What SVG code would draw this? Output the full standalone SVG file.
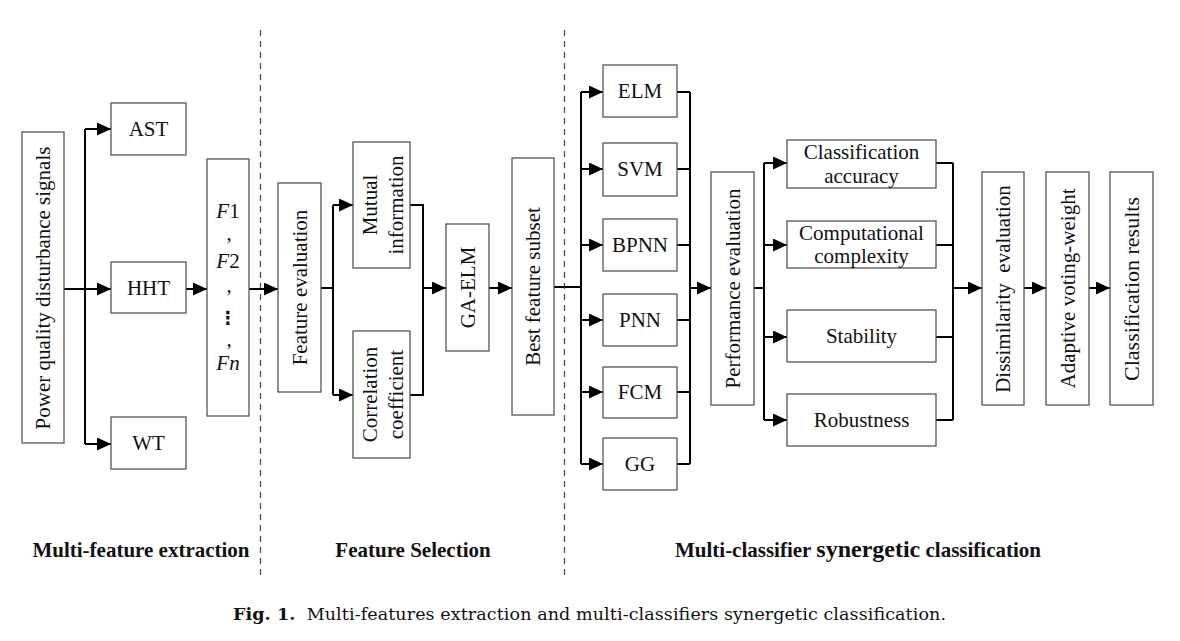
<svg xmlns="http://www.w3.org/2000/svg" width="1180" height="641" viewBox="0 0 1180 641">
<style>
.box{fill:#fff;stroke:#555;stroke-width:1.3}
.t{font-family:"Liberation Serif","Times New Roman",serif;font-size:21px;fill:#111;text-anchor:middle}
.c{fill:none;stroke:#000;stroke-width:2}
.a{fill:none;stroke:#000;stroke-width:2;marker-end:url(#ah)}
.d{fill:none;stroke:#444;stroke-width:1.2;stroke-dasharray:6 5}
.lbl{font-family:"Liberation Serif","Times New Roman",serif;font-weight:bold;font-size:21px;fill:#111;text-anchor:middle}
.cap{font-family:"DejaVu Serif","Liberation Serif",serif;font-size:17.5px;fill:#111}
</style>
<defs>
<marker id="ah" markerUnits="userSpaceOnUse" markerWidth="15" markerHeight="13" refX="14" refY="6.5" orient="auto">
<path d="M0,0 L14,6.5 L0,13 z" fill="#000"/>
</marker>
</defs>
<rect width="1180" height="641" fill="#fff"/>

<g id="dividers">
<line class="d" x1="260.5" y1="30" x2="260.5" y2="580"/>
<line class="d" x1="564.5" y1="30" x2="564.5" y2="580"/>
</g>

<g id="connectors">
<path class="c" d="M85,129 V444"/>
<path class="a" d="M64,289 H111"/>
<path class="a" d="M85,129 H111"/>
<path class="a" d="M85,444 H111"/>
<path class="a" d="M186,289 H207"/>
<path class="a" d="M249,289 H278"/>
<path class="c" d="M321,288 H333 M333,205 V395"/>
<path class="a" d="M333,205 H353"/>
<path class="a" d="M333,395 H353"/>
<path class="c" d="M410,205 H423 V395 H410"/>
<path class="a" d="M423,288 H446"/>
<path class="a" d="M489,288 H512"/>
<path class="c" d="M554,287 H581 M581,92 V464"/>
<path class="a" d="M581,92 H603"/>
<path class="a" d="M581,169 H603"/>
<path class="a" d="M581,245 H603"/>
<path class="a" d="M581,320 H603"/>
<path class="a" d="M581,392 H603"/>
<path class="a" d="M581,464 H603"/>
<path class="c" d="M677,92 H690 M677,169 H690 M677,245 H690 M677,320 H690 M677,392 H690 M677,464 H690 M690,92 V464"/>
<path class="a" d="M690,288 H711"/>
<path class="c" d="M754,288 H764 M764,163 V420"/>
<path class="a" d="M764,163 H787"/>
<path class="a" d="M764,245 H787"/>
<path class="a" d="M764,337 H787"/>
<path class="a" d="M764,420 H787"/>
<path class="c" d="M936,163 H953 M936,245 H953 M936,337 H953 M936,420 H953 M953,163 V420"/>
<path class="a" d="M953,288 H982"/>
<path class="a" d="M1024,288 H1046"/>
<path class="a" d="M1089,288 H1110"/>
</g>

<g id="n-pq">
<rect class="box" x="22" y="132" width="42" height="311"/>
<text class="t" x="43" y="288" dy=".35em" transform="rotate(-90 43 288)">Power quality disturbance signals</text>
</g>
<g id="n-ast">
<rect class="box" x="111" y="103" width="75" height="52"/>
<text class="t" x="148.5" y="136">AST</text>
</g>
<g id="n-hht">
<rect class="box" x="111" y="262" width="75" height="51"/>
<text class="t" x="148.5" y="295">HHT</text>
</g>
<g id="n-wt">
<rect class="box" x="111" y="417" width="75" height="52"/>
<text class="t" x="148.5" y="450">WT</text>
</g>
<g id="n-f">
<rect class="box" x="207" y="159" width="42" height="257"/>
<text class="t" x="228" y="218"><tspan font-style="italic">F</tspan>1</text>
<text class="t" x="229" y="240">,</text>
<text class="t" x="228" y="268"><tspan font-style="italic">F</tspan>2</text>
<text class="t" x="229" y="292">,</text>
<text class="t" x="228" y="324" style="font-family:'DejaVu Sans',sans-serif;font-weight:bold;font-size:18px">⋮</text>
<text class="t" x="229" y="346">,</text>
<text class="t" x="228" y="370"><tspan font-style="italic">F</tspan><tspan font-style="italic">n</tspan></text>
</g>
<g id="n-fe">
<rect class="box" x="278" y="183" width="43" height="209"/>
<text class="t" x="299.5" y="287.5" dy=".35em" transform="rotate(-90 299.5 287.5)">Feature evaluation</text>
</g>
<g id="n-mi">
<rect class="box" x="353" y="142" width="57" height="126"/>
<text class="t" transform="translate(377 205) rotate(-90)">Mutual</text>
<text class="t" transform="translate(403 205) rotate(-90)">information</text>
</g>
<g id="n-cc">
<rect class="box" x="353" y="331" width="57" height="127"/>
<text class="t" transform="translate(377 394.5) rotate(-90)">Correlation</text>
<text class="t" transform="translate(403 394.5) rotate(-90)">coefficient</text>
</g>
<g id="n-ga">
<rect class="box" x="446" y="224" width="43" height="127"/>
<text class="t" x="467.5" y="287.5" dy=".35em" transform="rotate(-90 467.5 287.5)">GA-ELM</text>
</g>
<g id="n-best">
<rect class="box" x="512" y="158" width="42" height="257"/>
<text class="t" x="533" y="286.5" dy=".35em" transform="rotate(-90 533 286.5)">Best feature subset</text>
</g>
<g id="n-elm"><rect class="box" x="603" y="65" width="74" height="52"/><text class="t" x="640" y="98">ELM</text></g>
<g id="n-svm"><rect class="box" x="603" y="143" width="74" height="53"/><text class="t" x="640" y="176">SVM</text></g>
<g id="n-bpnn"><rect class="box" x="603" y="219" width="74" height="52"/><text class="t" x="640" y="252">BPNN</text></g>
<g id="n-pnn"><rect class="box" x="603" y="294" width="74" height="52"/><text class="t" x="640" y="327">PNN</text></g>
<g id="n-fcm"><rect class="box" x="603" y="367" width="74" height="51"/><text class="t" x="640" y="399">FCM</text></g>
<g id="n-gg"><rect class="box" x="603" y="438" width="74" height="52"/><text class="t" x="640" y="471">GG</text></g>
<g id="n-perf">
<rect class="box" x="711" y="172" width="43" height="233"/>
<text class="t" x="732.5" y="288.5" dy=".35em" transform="rotate(-90 732.5 288.5)">Performance evaluation</text>
</g>
<g id="n-acc">
<rect class="box" x="787" y="140" width="149" height="48"/>
<text class="t" x="861.5" y="159">Classification</text>
<text class="t" x="861.5" y="183">accuracy</text>
</g>
<g id="n-comp">
<rect class="box" x="787" y="221" width="149" height="47"/>
<text class="t" x="861.5" y="240">Computational</text>
<text class="t" x="861.5" y="263">complexity</text>
</g>
<g id="n-stab">
<rect class="box" x="787" y="310" width="149" height="52"/>
<text class="t" x="861.5" y="343">Stability</text>
</g>
<g id="n-rob">
<rect class="box" x="787" y="394" width="149" height="52"/>
<text class="t" x="861.5" y="427">Robustness</text>
</g>
<g id="n-dis">
<rect class="box" x="982" y="172" width="42" height="233"/>
<text class="t" x="1003" y="289" dy=".35em" transform="rotate(-90 1003 289)" xml:space="preserve">Dissimilarity  evaluation</text>
</g>
<g id="n-avw">
<rect class="box" x="1046" y="172" width="43" height="233"/>
<text class="t" x="1067.5" y="288.5" dy=".35em" transform="rotate(-90 1067.5 288.5)">Adaptive voting-weight</text>
</g>
<g id="n-res">
<rect class="box" x="1110" y="172" width="43" height="233"/>
<text class="t" x="1131.5" y="289" dy=".35em" transform="rotate(-90 1131.5 289)" style="font-size:22px">Classification results</text>
</g>

<g id="labels">
<text class="lbl" x="141" y="557">Multi-feature extraction</text>
<text class="lbl" x="413" y="557">Feature Selection</text>
<text class="lbl" x="858" y="557">Multi-classifier <tspan style="font-size:24px">synergetic</tspan> classification</text>
<text class="cap" x="233" y="620" textLength="713" lengthAdjust="spacing" xml:space="preserve"><tspan font-weight="bold">Fig. 1.</tspan>  Multi-features extraction and multi-classifiers synergetic classification.</text>
</g>
</svg>
